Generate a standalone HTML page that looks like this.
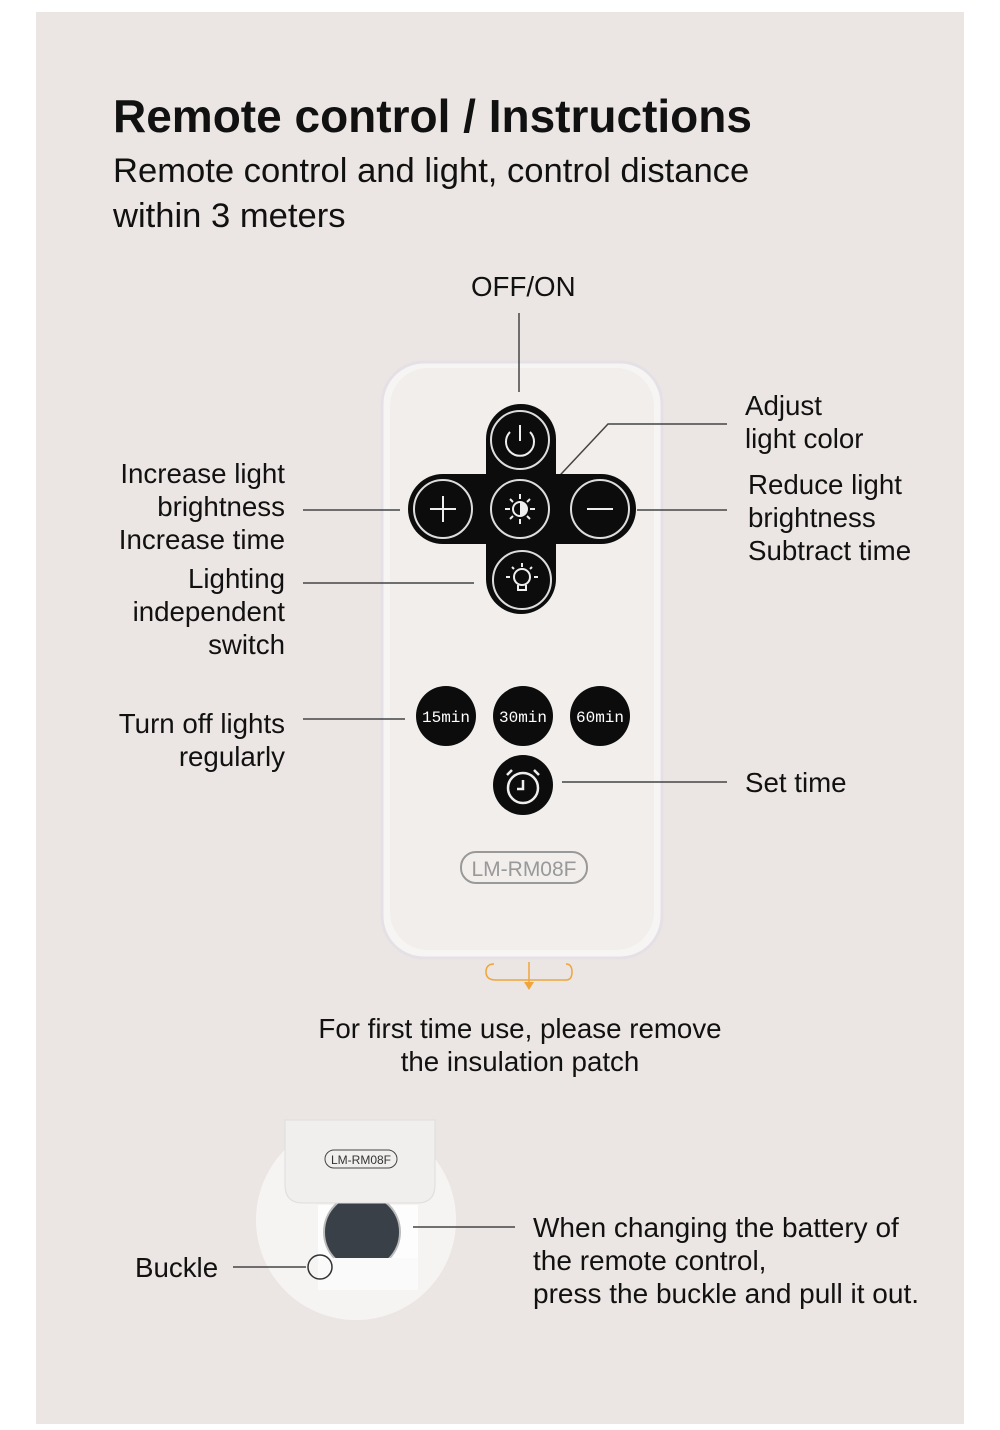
<!DOCTYPE html>
<html><head><meta charset="utf-8"><style>
body{margin:0;width:1000px;height:1430px;background:#fff;position:relative;font-family:"Liberation Sans",sans-serif;color:#111;overflow:hidden}
.card{position:absolute;left:36px;top:12px;width:928px;height:1412px;background:#ebe6e3}
.t{position:absolute;white-space:nowrap;font-size:27.7px;line-height:33px}
.r{text-align:right}
</style></head><body>
<div class="card"></div>
<div class="t" style="left:113px;top:88px;font-size:46px;line-height:56px;font-weight:bold">Remote control / Instructions</div>
<div class="t" style="left:113px;top:149px;font-size:34.6px;line-height:45px">Remote control and light, control distance<br>within 3 meters</div>
<div class="t" style="left:471px;top:270px">OFF/ON</div>
<div class="t" style="left:745px;top:389px">Adjust<br>light color</div>
<div class="t" style="left:748px;top:468px">Reduce light<br>brightness<br>Subtract time</div>
<div class="t r" style="right:715px;top:457px">Increase light<br>brightness<br>Increase time</div>
<div class="t r" style="right:715px;top:562px">Lighting<br>independent<br>switch</div>
<div class="t r" style="right:715px;top:707px">Turn off lights<br>regularly</div>
<div class="t" style="left:745px;top:766px">Set time</div>
<div class="t" style="left:300px;top:1012px;width:440px;text-align:center">For first time use, please remove<br>the insulation patch</div>
<div class="t" style="left:135px;top:1251px">Buckle</div>
<div class="t" style="left:533px;top:1211px;font-size:28px">When changing the battery of<br>the remote control,<br>press the buckle and pull it out.</div>
<svg width="1000" height="1430" style="position:absolute;left:0;top:0">
<rect x="382" y="362" width="280" height="596" rx="42" fill="#f7f5f4" stroke="#e4e0e6" stroke-width="3"/>
<rect x="390" y="368" width="264" height="582" rx="38" fill="#f1eeec"/>
<g stroke="#444" stroke-width="1.5" fill="none">
<line x1="519" y1="313" x2="519" y2="392"/>
<polyline points="548,488 608,424 727,424"/>
<line x1="303" y1="510" x2="400" y2="510"/>
<line x1="637" y1="510" x2="727" y2="510"/>
<line x1="303" y1="583" x2="474" y2="583"/>
<line x1="303" y1="719" x2="405" y2="719"/>
<line x1="562" y1="782" x2="727" y2="782"/>
</g>
<g fill="#0c0c0c">
<rect x="486" y="404" width="70" height="210" rx="35"/>
<rect x="408" y="474" width="228" height="70" rx="35"/>
</g>
<g fill="#0c0c0c" stroke="#ddd" stroke-width="2">
<circle cx="520" cy="440" r="29"/><circle cx="520" cy="509" r="29"/><circle cx="443" cy="509" r="29"/><circle cx="600" cy="509" r="29"/><circle cx="522" cy="580" r="29"/>
</g>
<g stroke="#eee" stroke-width="2" fill="none">
<path d="M510 432 A14 14 0 1 0 530 432"/><line x1="520" y1="425" x2="520" y2="441"/>
<line x1="430" y1="509" x2="456" y2="509"/><line x1="443" y1="496" x2="443" y2="522"/>
<line x1="587" y1="509" x2="613" y2="509"/>
<circle cx="520" cy="509" r="7"/>
<path d="M520 494v5M520 519v5M505 509h5M530 509h5M510 499l3 3M527 516l3 3M510 519l3-3M527 502l3-3"/>
<circle cx="522" cy="577" r="8"/><path d="M518 585v5h8v-5M522 563v4M510 577h-4M534 577h4M512 567l2 2M532 567l-2 2"/>
</g>
<path d="M520 502a7 7 0 0 1 0 14z" fill="#eee"/>
<g fill="#0c0c0c"><circle cx="446" cy="716" r="30"/><circle cx="523" cy="716" r="30"/><circle cx="600" cy="716" r="30"/><circle cx="523" cy="785" r="30"/></g>
<g fill="#fff" font-family="Liberation Mono,monospace" font-size="16" text-anchor="middle">
<text x="446" y="722">15min</text><text x="523" y="722">30min</text><text x="600" y="722">60min</text></g>
<g stroke="#eee" stroke-width="2.5" fill="none"><circle cx="523" cy="788" r="15"/><path d="M523 780v9h-6M507 775l5-5M539 775l-5-5"/></g>
<rect x="461" y="852" width="126" height="31" rx="15" fill="none" stroke="#999" stroke-width="2"/>
<text x="524" y="876" text-anchor="middle" font-size="21" fill="#999" font-family="Liberation Sans,sans-serif">LM-RM08F</text>
<g stroke="#f0a53a" stroke-width="1.5" fill="none"><path d="M494 964q-8 0-8 8q0 8 10 8h70q6 0 6-8q0-8-6-8"/><path d="M529 962v22"/></g>
<path d="M524 982l5 8l5-8z" fill="#f0a53a"/>
<circle cx="356" cy="1220" r="100" fill="#f6f4f2"/>
<rect x="318" y="1205" width="100" height="85" fill="#fdfdfd"/>
<circle cx="362" cy="1232" r="38" fill="#3a4048" stroke="#bbb" stroke-width="2"/>
<rect x="318" y="1258" width="100" height="32" fill="#fafafa"/>
<path d="M285 1120h150v65q0 18-18 18h-114q-18 0-18-18z" fill="#f1efed" stroke="#ddd"/>
<rect x="325" y="1150" width="72" height="18" rx="9" fill="none" stroke="#444"/>
<text x="361" y="1164" text-anchor="middle" font-size="12" fill="#333">LM-RM08F</text>
<g stroke="#444" stroke-width="1.5" fill="none">
<line x1="413" y1="1227" x2="515" y2="1227"/>
<line x1="233" y1="1267" x2="306" y2="1267"/>
<circle cx="320" cy="1267" r="12" stroke="#333"/>
</g>
</svg>
</body></html>
